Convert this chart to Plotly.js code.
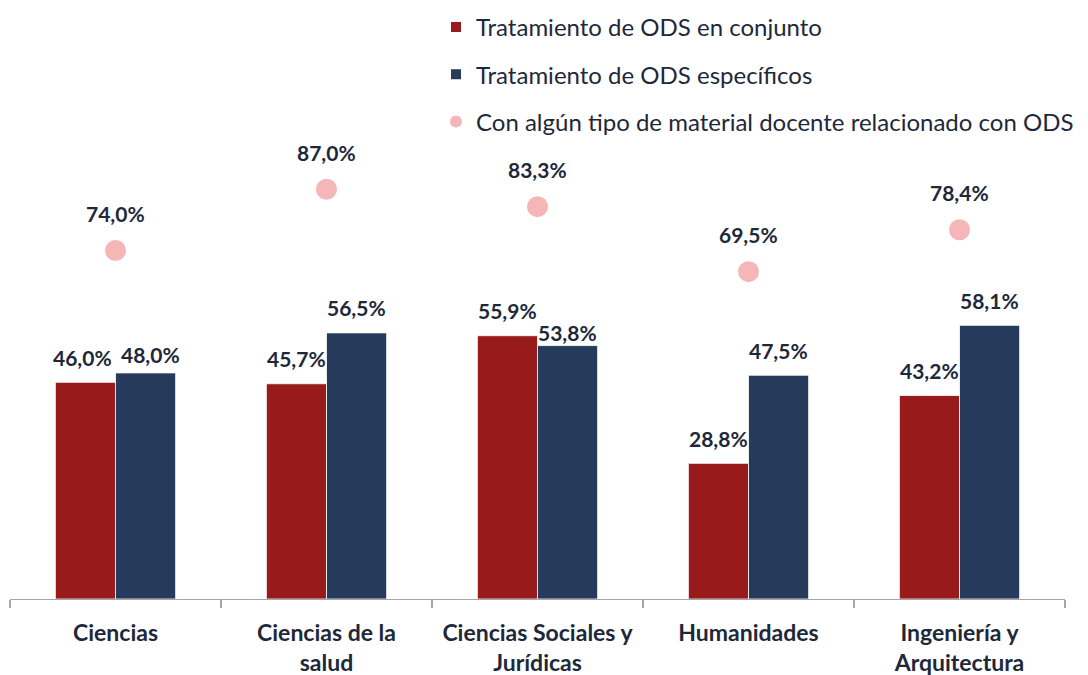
<!DOCTYPE html>
<html>
<head>
<meta charset="utf-8">
<script src="https://cdn.plot.ly/plotly-3.0.1.min.js"></script>
<style>
  html, body { margin: 0; padding: 0; background: #fff; }
  #chart { width: 1088px; height: 675px; }
</style>
</head>
<body>
<div id="chart"></div>
<script>
// Chart data
const categories = ['Ciencias', 'Ciencias de la<br>salud', 'Ciencias Sociales y<br>Jurídicas', 'Humanidades', 'Ingeniería y<br>Arquitectura'];
const conjunto = [46.0, 45.7, 55.9, 28.8, 43.2];
const especificos = [48.0, 56.5, 53.8, 47.5, 58.1];
const material = [74.0, 87.0, 83.3, 69.5, 78.4];

const seriesNames = [
    'Tratamiento de ODS en conjunto',
    'Tratamiento de ODS específicos',
    'Con algún tipo de material docente relacionado con ODS'
];

const RED = '#981a1a';
const NAVY = '#263a5b';
const PINK = '#f4b6b6';
const TEXT = '#1e283b';
const FONT = 'Lato, "Open Sans", sans-serif';

// paper is 1078px wide (l=10, r=0); the axis itself stops at x=1065
const PAPER_W = 1078;
const PLOT_H = 499;

// Spanish number format: 46,0%
function pct(v) {
    return v.toFixed(1).replace('.', ',') + '%';
}

// a few labels in the original were nudged to avoid overlaps
const nudges = {
    'c0': { dx: -3, dy: 0 },
    'e0': { dx: 5, dy: -7 },
    'e2': { dx: 0, dy: -12 }
};

function labelAnnotations(values, key, dx, dy) {
    return values.map((v, i) => {
        const n = nudges[key + i] || { dx: 0, dy: 0 };
        return {
            x: categories[i],
            y: v,
            xref: 'x',
            yref: 'y',
            text: pct(v),
            showarrow: false,
            xanchor: 'center',
            yanchor: 'middle',
            xshift: dx + n.dx,
            yshift: dy + n.dy,
            font: { family: FONT, size: 21, color: TEXT, weight: 'bold' }
        };
    });
}

const traces = [
    {
        type: 'bar',
        name: seriesNames[0],
        x: categories,
        y: conjunto,
        marker: { color: RED, line: { color: '#ffffff', width: 0.8 } },
        legendgroup: 'a',
        hoverinfo: 'skip'
    },
    {
        type: 'bar',
        name: seriesNames[1],
        x: categories,
        y: especificos,
        marker: { color: NAVY, line: { color: '#ffffff', width: 0.8 } },
        legendgroup: 'b',
        hoverinfo: 'skip'
    },
    {
        type: 'scatter',
        mode: 'markers',
        name: seriesNames[2],
        x: categories,
        y: material,
        marker: { color: PINK, size: 21 },
        legendgroup: 'c',
        hoverinfo: 'skip'
    }
];

const annotations = []
    .concat(labelAnnotations(conjunto, 'c', -30, 25))
    .concat(labelAnnotations(especificos, 'e', 30, 25))
    .concat(labelAnnotations(material, 'm', 0, 37));

const layout = {
    width: 1088,
    height: 675,
    paper_bgcolor: '#ffffff',
    plot_bgcolor: '#ffffff',
    font: { family: FONT, color: TEXT },
    margin: { l: 10, r: 0, t: 100, b: 76 },
    barmode: 'group',
    bargap: 0.43,
    bargroupgap: 0,
    showlegend: true,
    legend: {
        x: (436 - 10) / PAPER_W,
        y: 1 + 95 / PLOT_H,
        xanchor: 'left',
        yanchor: 'top',
        traceorder: 'grouped',
        tracegroupgap: 13,
        font: { family: FONT, size: 24, color: TEXT },
        bgcolor: 'rgba(0,0,0,0)',
        itemsizing: 'constant'
    },
    xaxis: {
        type: 'category',
        domain: [0, 1055 / PAPER_W],
        showline: true,
        linecolor: '#a6a6a6',
        linewidth: 1.3,
        ticks: 'outside',
        tickson: 'boundaries',
        ticklen: 8,
        tickcolor: '#a6a6a6',
        tickwidth: 1.3,
        showgrid: false,
        ticklabelstandoff: 13,
        tickfont: { family: FONT, size: 23, color: TEXT, weight: 'bold' },
        fixedrange: true
    },
    yaxis: {
        range: [0, PLOT_H / 4.71],
        visible: false,
        showgrid: false,
        zeroline: false,
        fixedrange: true
    },
    annotations: annotations
};

Plotly.newPlot('chart', traces, layout, { displayModeBar: false, staticPlot: true });
</script>
</body>
</html>
